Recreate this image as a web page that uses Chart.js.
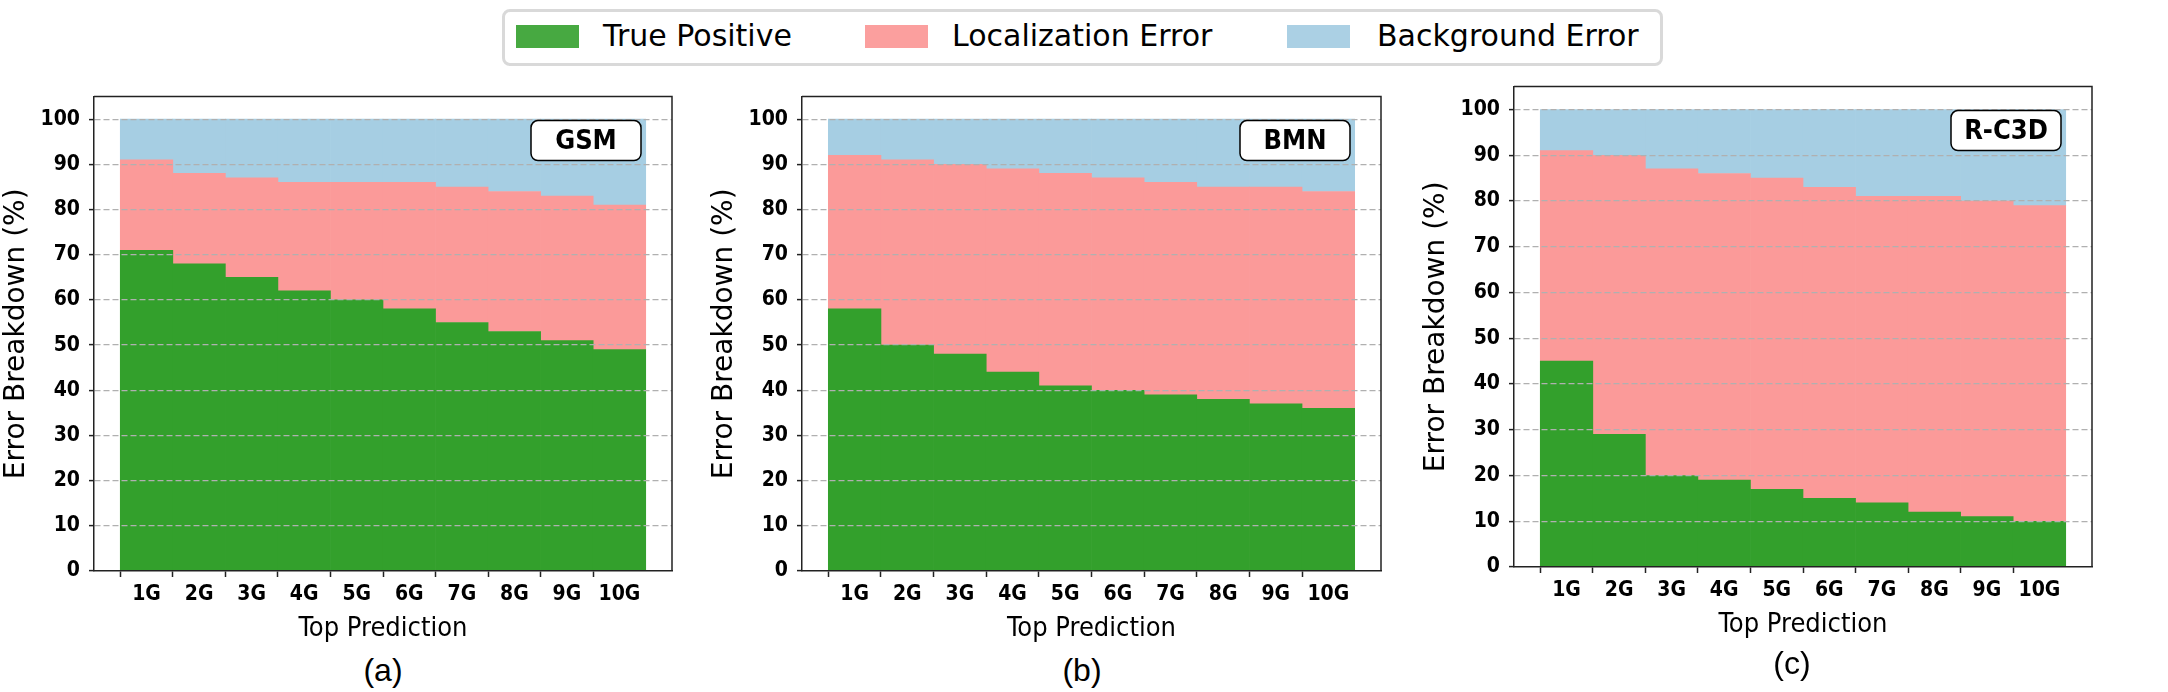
<!DOCTYPE html>
<html>
<head>
<meta charset="utf-8">
<script src="https://cdn.jsdelivr.net/npm/chart.js@4.4.1/dist/chart.umd.min.js"></script>
<style>
  html, body { margin: 0; padding: 0; background: #fff; }
  #page { position: relative; width: 2168px; height: 692px; overflow: hidden; }
  .panel { position: absolute; }
  .legend {
    position: absolute; left: 502px; top: 9px; width: 1155px; height: 51px;
    border: 3px solid #d9d9d9; border-radius: 8px;
    font-family: "DejaVu Sans", sans-serif; font-size: 30px; color: #000;
  }
  .legend .sw { position: absolute; top: 13px; width: 63px; height: 23px; }
  .legend .lb { position: absolute; top: 6px; line-height: 36px; white-space: nowrap; }
  .cap {
    position: absolute; width: 100px; margin-left: -50px; text-align: center;
    font-family: "Liberation Sans", Arial, sans-serif; font-size: 32px; line-height: 36px;
  }
</style>
</head>
<body>
<div id="page">
  <div class="legend">
    <div class="sw" style="left:11px;background:rgba(51,160,44,0.9)"></div>
    <div class="lb" style="left:98px">True Positive</div>
    <div class="sw" style="left:360px;background:rgba(251,154,153,0.95)"></div>
    <div class="lb" style="left:447px">Localization Error</div>
    <div class="sw" style="left:782px;background:rgba(166,206,227,0.95)"></div>
    <div class="lb" style="left:872px">Background Error</div>
  </div>

  <div class="panel" id="pa"><canvas id="chartA"></canvas></div>
  <div class="panel" id="pb"><canvas id="chartB"></canvas></div>
  <div class="panel" id="pc"><canvas id="chartC"></canvas></div>

  <div class="cap" style="left:383px;top:652px">(a)</div>
  <div class="cap" style="left:1082px;top:652px">(b)</div>
  <div class="cap" style="left:1792px;top:645px">(c)</div>
</div>

<script>
// categories (empty labels pad the axis by one step on each side)
var topN = ["1G", "2G", "3G", "4G", "5G", "6G", "7G", "8G", "9G", "10G"];
var yTicks = [0, 10, 20, 30, 40, 50, 60, 70, 80, 90, 100];

// GSM
var gsmTP  = [71, 68, 65, 62, 60, 58, 55, 53, 51, 49];
var gsmLoc = [20, 20, 22, 24, 26, 28, 30, 31, 32, 32];
var gsmBg  = [9, 12, 13, 14, 14, 14, 15, 16, 17, 19];

// BMN
var bmnTP  = [58, 50, 48, 44, 41, 40, 39, 38, 37, 36];
var bmnLoc = [34, 41, 42, 45, 47, 47, 47, 47, 48, 48];
var bmnBg  = [8, 9, 10, 11, 12, 13, 14, 15, 15, 16];

// R-C3D
var rc3dTP  = [45, 29, 20, 19, 17, 15, 14, 12, 11, 10];
var rc3dLoc = [46, 61, 67, 67, 68, 68, 67, 69, 69, 69];
var rc3dBg  = [9, 10, 13, 14, 15, 17, 19, 19, 20, 21];

var GREEN = "#33a02c", PINK = "#fb9a99", BLUE = "#a6cee3";
var TICK_FONT = "'DejaVu Sans Condensed', 'DejaVu Sans', sans-serif";

Chart.defaults.color = "#000";
Chart.defaults.animation = false;

// pad with null so bars sit on indices 1..10
function pad(arr) {
  return [null].concat(arr, [null]);
}

// box around plot + model name tag in the upper right
var framePlugin = {
  id: "frame",
  afterDraw: function (chart) {
    var a = chart.chartArea, ctx = chart.ctx;
    ctx.save();
    ctx.strokeStyle = "#222";
    ctx.lineWidth = 1.5;
    ctx.beginPath();
    ctx.moveTo(a.left, a.top);
    ctx.lineTo(a.right, a.top);
    ctx.lineTo(a.right, a.bottom);
    ctx.stroke();

    var name = chart.options.plugins.frame.name;
    var w = 110, h = 40;
    var x = a.right - 31 - w, y = a.top + 24;
    ctx.beginPath();
    ctx.roundRect(x, y, w, h, 7);
    ctx.fillStyle = "#fff";
    ctx.fill();
    ctx.strokeStyle = "#000";
    ctx.lineWidth = 1.5;
    ctx.stroke();
    ctx.fillStyle = "#000";
    ctx.font = "bold 27px " + TICK_FONT;
    ctx.textAlign = "center";
    ctx.textBaseline = "middle";
    ctx.fillText(name, x + w / 2, y + h / 2 + 1);
    ctx.restore();
  }
};

function makePanel(divId, canvasId, name, tp, loc, bg, plotL, plotR, plotT, plotB) {
  var div = document.getElementById(divId);
  div.style.left = (plotL - 94) + "px";
  div.style.top = (plotT - 20) + "px";
  div.style.width = (plotR - plotL + 94 + 20) + "px";
  div.style.height = (plotB - plotT + 20 + 80) + "px";

  var ctx = document.getElementById(canvasId).getContext("2d");
  return new Chart(ctx, {
    type: "bar",
    data: {
      labels: [""].concat(topN, [""]),
      datasets: [
        { label: "True Positive", data: pad(tp), backgroundColor: GREEN },
        { label: "Localization Error", data: pad(loc), backgroundColor: PINK },
        { label: "Background Error", data: pad(bg), backgroundColor: BLUE },
      ],
    },
    options: {
      responsive: true,
      maintainAspectRatio: false,
      layout: { padding: { left: 0, top: 20, right: 20, bottom: 0 } },
      datasets: {
        bar: { barPercentage: 1, categoryPercentage: 1, borderWidth: 0 },
      },
      plugins: {
        legend: { display: false },
        tooltip: { enabled: false },
        frame: { name: name },
      },
      scales: {
        x: {
          stacked: true,
          offset: false,
          afterFit: function (s) { s.height = 80; },
          grid: {
            drawOnChartArea: false,
            drawTicks: true,
            tickLength: 6,
            tickWidth: 1.5,
            tickColor: function (c) {
              return (c.index === 0 || c.index === topN.length + 1) ? "rgba(0,0,0,0)" : "#222";
            },
          },
          border: { color: "#222", width: 1.5, z: 2 },
          ticks: {
            autoSkip: false,
            maxRotation: 0,
            padding: 5,
            font: { family: TICK_FONT, size: 21, weight: "bold" },
          },
          title: {
            display: true,
            text: "Top Prediction",
            font: { family: TICK_FONT, size: 27 },
            padding: { top: 0, bottom: 6 },
          },
        },
        y: {
          stacked: true,
          min: 0,
          max: 105,
          afterFit: function (s) { s.width = 94; },
          afterBuildTicks: function (s) {
            s.ticks = yTicks.map(function (v) { return { value: v }; });
          },
          grid: {
            z: 1,
            color: function (c) {
              return (c.tick && c.tick.value === 0) ? "rgba(0,0,0,0)" : "#b0b0b0";
            },
            lineWidth: 1.2,
            drawTicks: true,
            tickLength: 5,
            tickColor: "#222",
            tickWidth: 1.5,
            tickBorderDash: [],
          },
          border: { color: "#222", width: 1.5, dash: [6, 3], z: 2 },
          ticks: {
            padding: 9,
            font: { family: TICK_FONT, size: 21, weight: "bold" },
          },
          title: {
            display: true,
            text: "Error Breakdown (%)",
            font: { family: "'DejaVu Sans', sans-serif", size: 28 },
            padding: { top: 0, bottom: 0 },
          },
        },
      },
    },
    plugins: [framePlugin],
  });
}

makePanel("pa", "chartA", "GSM", gsmTP, gsmLoc, gsmBg, 94, 672, 95, 571);
makePanel("pb", "chartB", "BMN", bmnTP, bmnLoc, bmnBg, 802, 1381, 95, 571);
makePanel("pc", "chartC", "R-C3D", rc3dTP, rc3dLoc, rc3dBg, 1514, 2092, 85, 567);
</script>
</body>
</html>
